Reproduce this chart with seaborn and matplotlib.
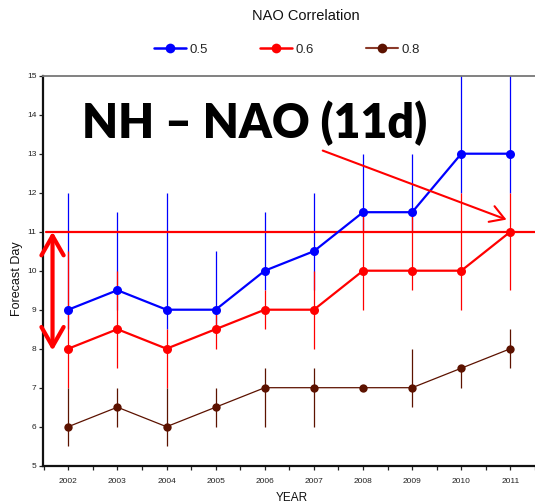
import numpy as np
import pandas as pd
import matplotlib
matplotlib.use("Agg")
import matplotlib.pyplot as plt
from matplotlib.lines import Line2D
from matplotlib.patches import FancyArrowPatch
import seaborn as sns

# Forecast day at which NAO correlation drops below each threshold
years = [2002, 2003, 2004, 2005, 2006, 2007, 2008, 2009, 2010, 2011]

corr_05 = [9, 9.5, 9, 9, 10, 10.5, 11.5, 11.5, 13, 13]
corr_05_hi = [12, 11.5, 12, 10.5, 11.5, 12, 13, 13, 16, 16]
corr_05_lo = [8.5, 9, 8.5, 8.5, 9.5, 9.5, 11, 11, 12, 12]

corr_06 = [8, 8.5, 8, 8.5, 9, 9, 10, 10, 10, 11]
corr_06_hi = [10.5, 10, 8.5, 9, 9.5, 10, 11.5, 11.5, 12, 12]
corr_06_lo = [7, 7.5, 7, 8, 8.5, 8, 9, 9.5, 9, 9.5]

corr_08 = [6, 6.5, 6, 6.5, 7, 7, 7, 7, 7.5, 8]
corr_08_hi = [7, 7, 7, 7, 7.5, 7.5, 7, 8, 7.5, 8.5]
corr_08_lo = [5.5, 6, 5.5, 6, 6, 6, 7, 6.5, 7, 7.5]

series_labels = ["0.5", "0.6", "0.8"]
target_day = 11

BLUE = "#0000ff"
RED = "#ff0000"
BROWN = "#5c1200"

sns.set_style("ticks")
plt.rcParams["font.family"] = ["Liberation Sans", "DejaVu Sans"]

W, H = 535, 503
fig = plt.figure(figsize=(W / 100, H / 100), dpi=100)
ax = fig.add_axes([42.7 / W, 1 - 465.7 / H, 1 - 42.7 / W, (465.7 - 75.7) / H])

df = pd.DataFrame({"year": years * 3,
                   "day": corr_05 + corr_06 + corr_08,
                   "corr": np.repeat(series_labels, len(years))})

# spread bars, drawn beneath the lines
ax.vlines(years, corr_05_lo, corr_05_hi, colors=BLUE, lw=0.9, zorder=1)
ax.vlines(years, corr_06_lo, corr_06_hi, colors=RED, lw=0.9, zorder=2)
ax.vlines(years, corr_08_lo, corr_08_hi, colors=BROWN, lw=0.9, zorder=3)

ax.axhline(target_day, xmin=0.006, color=RED, lw=1.6, zorder=2.5)

styles = {"0.5": (BLUE, 1.6, 6.5), "0.6": (RED, 1.6, 6.5), "0.8": (BROWN, 0.9, 6.0)}
for i, lab in enumerate(series_labels):
    sub = df[df["corr"] == lab]
    c, lw, ms = styles[lab]
    sns.lineplot(data=sub, x="year", y="day", color=c, lw=lw, marker="o",
                 markersize=ms, markeredgewidth=0, ax=ax, legend=False,
                 zorder=4 + i)

ax.set_xlim(2001.48, 2011.35)
ax.set_ylim(5, 15)
ax.set_xticks(years)
ax.set_xticks(np.arange(2001.5, 2011.6, 1.0), minor=True)
ax.set_yticks(range(5, 16))
ax.tick_params(axis="both", which="both", direction="out", length=3,
               width=0.9, colors="#222222", labelsize=6, pad=1.5)
ax.tick_params(axis="x", which="major", pad=6)
ax.set_xlabel("")
ax.set_ylabel("")

for side in ("left", "bottom"):
    ax.spines[side].set_linewidth(1.6)
    ax.spines[side].set_color("#111111")
ax.spines["top"].set_linewidth(1.3)
ax.spines["top"].set_color("#777777")
ax.spines["right"].set_visible(False)

fig.text(17 / W, 1 - 279 / H, "Forecast Day", rotation=90, ha="center",
         va="center", fontsize=9, color="#111111")
fig.text(292 / W, 1 - 498 / H, "YEAR", ha="center", va="center",
         fontsize=8.5, color="#111111")

# legend with a separate heading
fig.text(306 / W, 1 - 16 / H, "NAO Correlation", ha="center", va="center",
         fontsize=10.5, color="#111111")
handles = [
    Line2D([], [], color=BLUE, lw=1.8, marker="o", markersize=7, markeredgewidth=0),
    Line2D([], [], color=RED, lw=1.8, marker="o", markersize=7, markeredgewidth=0),
    Line2D([], [], color="#8b3a2a", lw=1.5, marker="o", markersize=7,
           markerfacecolor=BROWN, markeredgewidth=0),
]
fig.legend(handles, series_labels, ncol=3, frameon=False, loc="center",
           bbox_to_anchor=(287 / W, 1 - 50 / H), fontsize=9.5,
           handlelength=2.4, handletextpad=0.3, columnspacing=3.95)

# headline and annotations
fig.text(255 / W, 1 - 138 / H, "NH \u2013 NAO (11d)", ha="center",
         va="baseline", fontsize=33.5, fontweight="heavy",
         family=["Lato", "DejaVu Sans"], color="black")

ax.add_patch(FancyArrowPatch((2001.68, target_day), (2001.68, 7.95),
                             arrowstyle="<->,head_length=14,head_width=8",
                             mutation_scale=1, lw=3, color=RED,
                             shrinkA=0, shrinkB=0, zorder=8, clip_on=False))
ax.add_patch(FancyArrowPatch((2007.18, 13.08), (2010.92, 11.31),
                             arrowstyle="->,head_length=10,head_width=6",
                             mutation_scale=1, lw=1.5, color=RED,
                             shrinkA=0, shrinkB=0, zorder=8))

fig.savefig("out.png", dpi=100)
